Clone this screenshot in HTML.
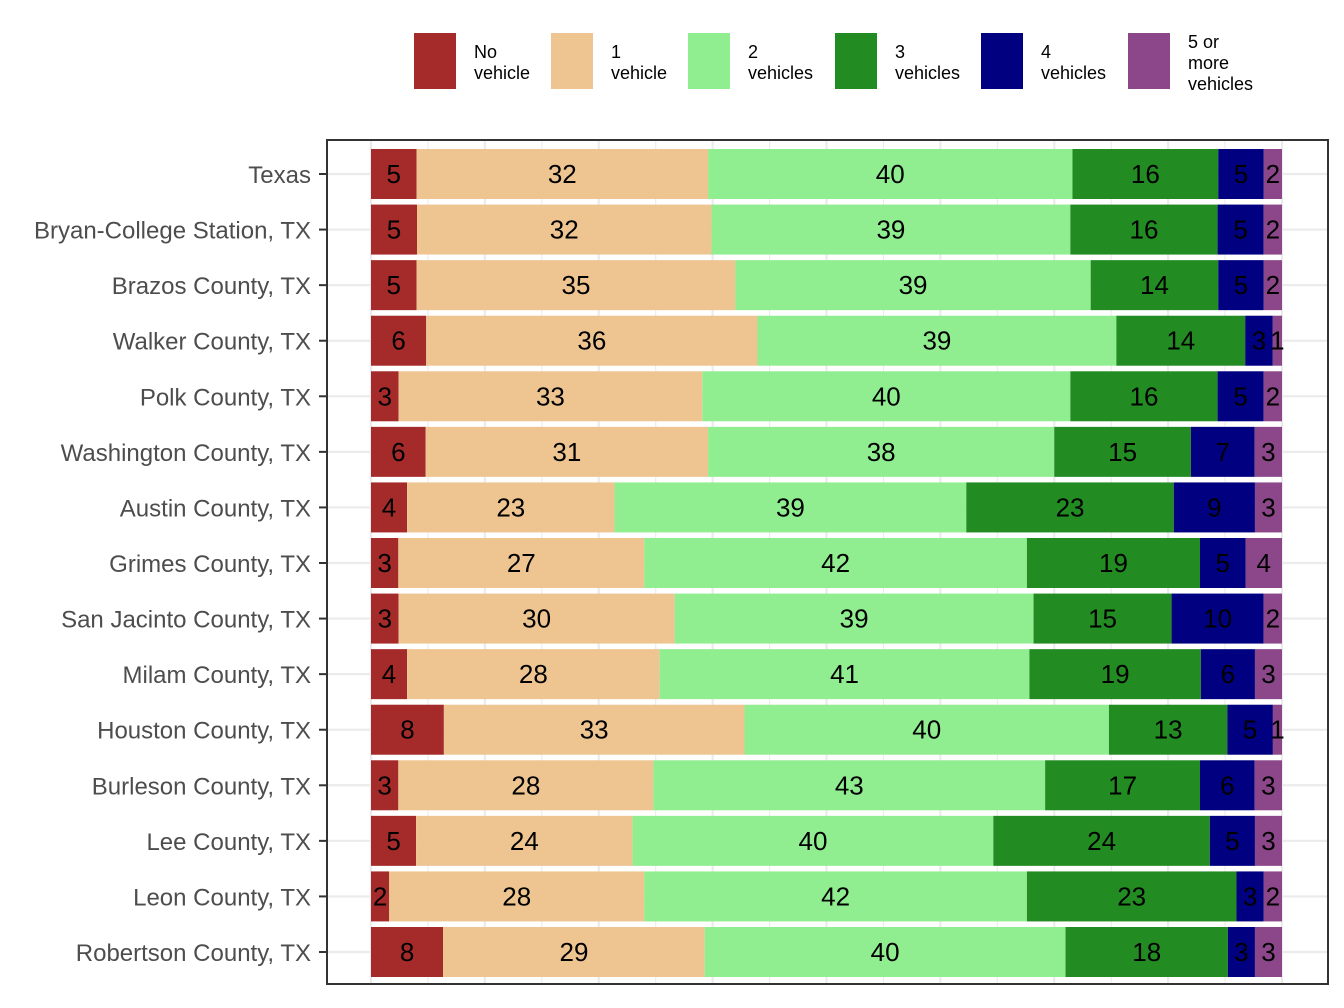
<!DOCTYPE html>
<html><head><meta charset="utf-8">
<style>
body{margin:0;background:#fff;}
svg{display:block;font-family:"Liberation Sans",Arial,sans-serif;}
</style></head>
<body>
<svg id="chart" width="1344" height="1008" viewBox="0 0 1344 1008" xmlns="http://www.w3.org/2000/svg"></svg>
<script>
const categories=["Texas","Bryan-College Station, TX","Brazos County, TX","Walker County, TX","Polk County, TX","Washington County, TX","Austin County, TX","Grimes County, TX","San Jacinto County, TX","Milam County, TX","Houston County, TX","Burleson County, TX","Lee County, TX","Leon County, TX","Robertson County, TX"];
const seriesNames=["No\nvehicle","1\nvehicle","2\nvehicles","3\nvehicles","4\nvehicles","5 or\nmore\nvehicles"];
const noVehicle=[5,5,5,6,3,6,4,3,3,4,8,3,5,2,8];
const oneVehicle=[32,32,35,36,33,31,23,27,30,28,33,28,24,28,29];
const twoVehicles=[40,39,39,39,40,38,39,42,39,41,40,43,40,42,40];
const threeVehicles=[16,16,14,14,16,15,23,19,15,19,13,17,24,23,18];
const fourVehicles=[5,5,5,3,5,7,9,5,10,6,5,6,5,3,3];
const fivePlus=[2,2,2,1,2,3,3,4,2,3,1,3,3,2,3];
const colors=["#a52a2a","#eec591","#90ee90","#228b22","#000080","#8b4789"];
const series=[noVehicle,oneVehicle,twoVehicles,threeVehicles,fourVehicles,fivePlus];
const NS="http://www.w3.org/2000/svg";
const svg=document.getElementById('chart');
function el(t,a,p){const e=document.createElementNS(NS,t);for(const k in a)e.setAttribute(k,a[k]);(p||svg).appendChild(e);return e;}
const px0=327,px1=1328,py0=140,py1=984,x0=371,x1=1282;
const xScale=v=>x0+(x1-x0)*v/100;
const yScale=i=>174+i*(952-174)/(categories.length-1);
const panel=el('rect',{x:px0,y:py0,width:px1-px0,height:py1-py0,fill:'#fff'});


for(let v=0;v<=100;v+=6.25){const x=xScale(v*1);const major=(Math.round(v/6.25)%2===0);
 const g=el('line',{x1:x,x2:x,y1:py0,y2:py1,stroke:'#ebebeb','stroke-width':major?2.2:1.1});
 }
categories.forEach((c,i)=>{const y=yScale(i);
 const g=el('line',{x1:px0,x2:px1,y1:y,y2:y,stroke:'#ebebeb','stroke-width':2.2});
 });
categories.forEach((c,i)=>{
 const y=yScale(i);let tot=0;series.forEach(s=>tot+=s[i]);let cum=0;
 series.forEach((s,j)=>{const v=s[i]/tot*100;const xa=xScale(cum),xb=xScale(cum+v);
  const r=el('rect',{x:xa,y:y-25,width:xb-xa,height:50,fill:colors[j]});
  
  const t=el('text',{x:(xa+xb)/2,y:y+9,'text-anchor':'middle','font-size':26,fill:'#000'});
  t.textContent=s[i];
  cum+=v;});
 const tk=el('line',{x1:319,x2:327,y1:y,y2:y,stroke:'#333','stroke-width':2});
 
 const lb=el('text',{x:311,y:y+9,'text-anchor':'end','font-size':24,fill:'#4d4d4d'});
 lb.textContent=c;
});
const border=el('rect',{x:px0,y:py0,width:px1-px0,height:py1-py0,fill:'none',stroke:'#333','stroke-width':2});

const legendX=[414,551,688,835,981,1128];
const leg=el('g',{});
seriesNames.forEach((n,j)=>{
 const r=el('rect',{x:legendX[j],y:33,width:42,height:56,fill:colors[j]},leg);
 
 const lines=n.split('\n');const startY=lines.length===3?48:58;
 lines.forEach((ln,k)=>{const t=el('text',{x:legendX[j]+60,y:startY+k*21,'font-size':18,fill:'#000'},leg);
  t.textContent=ln;});
});
</script>
</body></html>
